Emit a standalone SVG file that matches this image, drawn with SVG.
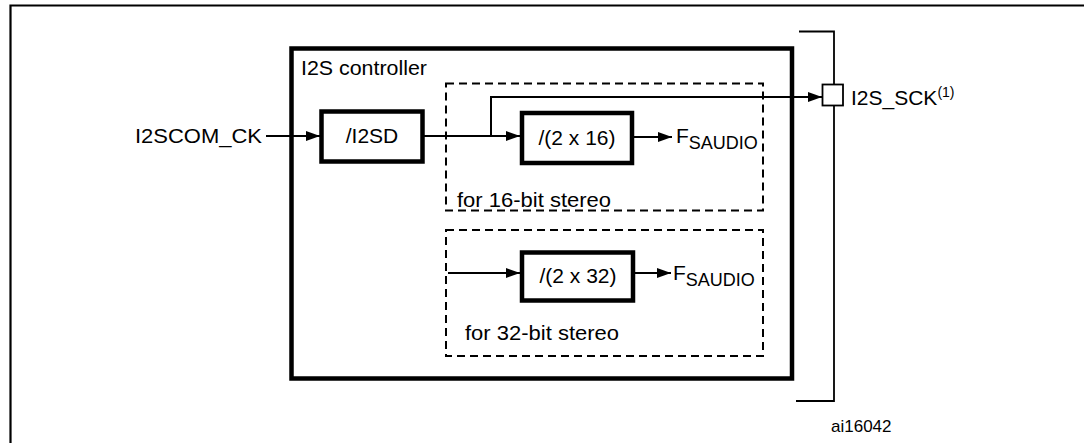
<svg xmlns="http://www.w3.org/2000/svg" width="1084" height="443" viewBox="0 0 1084 443">
<style>
text{font-family:"Liberation Sans",Arial,Helvetica,sans-serif;fill:#000}
.t{font-size:21px}
.blk{fill:#fff;stroke:#000;stroke-width:4.5}
.dash{fill:none;stroke:#000;stroke-width:2;stroke-dasharray:8 5}
.c{fill:none;stroke:#000;stroke-width:2}
</style>
<defs>
<marker id="ah" viewBox="0 0 14 10" refX="14" refY="5" markerWidth="14" markerHeight="10" markerUnits="userSpaceOnUse" orient="auto">
<path d="M0,0 L14,5 L0,10 z" fill="#000"/>
</marker>
</defs>
<rect x="0" y="0" width="1084" height="443" fill="#fff"/>
<g id="frame">
<path d="M10.5,450 V5.5 H1090" fill="none" stroke="#000" stroke-width="2.2"/>
</g>
<g id="controller">
<rect class="blk" x="291.5" y="48.5" width="500.5" height="330" fill="none"/>
<text class="t" x="301" y="75" textLength="126" lengthAdjust="spacingAndGlyphs">I2S controller</text>
</g>
<g id="group16">
<rect class="dash" x="446" y="83.5" width="317" height="127"/>
<text class="t" x="457" y="207" textLength="154" lengthAdjust="spacingAndGlyphs">for 16-bit stereo</text>
</g>
<g id="group32">
<rect class="dash" x="446" y="230" width="317" height="126"/>
<text class="t" x="465" y="340" textLength="154" lengthAdjust="spacingAndGlyphs">for 32-bit stereo</text>
</g>
<g id="i2sd">
<rect class="blk" x="321.5" y="111.5" width="101" height="50"/>
<text class="t" x="372" y="143" text-anchor="middle">/I2SD</text>
</g>
<g id="div16">
<rect class="blk" x="522" y="113" width="110" height="50"/>
<text class="t" x="577" y="145" text-anchor="middle">/(2 x 16)</text>
</g>
<g id="div32">
<rect class="blk" x="522" y="252.5" width="111" height="48"/>
<text class="t" x="578" y="283" text-anchor="middle">/(2 x 32)</text>
</g>
<g id="bracket">
<path d="M799,31.5 H834 V401 H796" fill="none" stroke="#000" stroke-width="1.8"/>
<rect x="822.5" y="84.5" width="20.5" height="21" fill="#fff" stroke="#000" stroke-width="1.8"/>
</g>
<g id="labels">
<text class="t" x="135" y="143" textLength="127" lengthAdjust="spacingAndGlyphs">I2SCOM_CK</text>
<text class="t" x="851" y="105">I2S_SCK<tspan font-size="14" dy="-8">(1)</tspan></text>
<text class="t" x="676" y="143">F<tspan font-size="18" dy="6">SAUDIO</tspan></text>
<text class="t" x="673" y="280">F<tspan font-size="18" dy="6">SAUDIO</tspan></text>
<text x="831" y="432" font-size="17">ai16042</text>
</g>
<g id="connectors">
<path class="c" d="M266,136 H320" marker-end="url(#ah)"/>
<path class="c" d="M424,136 H520" marker-end="url(#ah)"/>
<path class="c" d="M491,136 V97 H822" marker-end="url(#ah)"/>
<path class="c" d="M634,137 H672" marker-end="url(#ah)"/>
<path class="c" d="M448,273 H520" marker-end="url(#ah)"/>
<path class="c" d="M635,273 H671" marker-end="url(#ah)"/>
</g>
</svg>
